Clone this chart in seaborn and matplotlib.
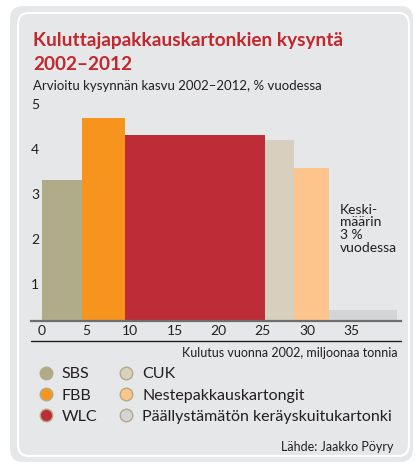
import numpy as np
import matplotlib
matplotlib.use("Agg")
import matplotlib.pyplot as plt
import seaborn as sns
from matplotlib.patches import FancyBboxPatch
from matplotlib.lines import Line2D
from matplotlib.transforms import ScaledTranslation

# data
lajit = ["SBS", "FBB", "WLC", "CUK", "Nestepakkauskartongit",
         "Päällystämätön keräyskuitukartonki"]
kulutus = [4.5, 4.9, 15.8, 3.3, 4.0, 7.7]      # miljoonaa tonnia 2002 (bar width)
kasvu = [3.13, 4.51, 4.13, 4.02, 3.4, 0.24]     # % vuodessa (bar height)
varit = ["#b0ab88", "#f7941d", "#be2d37", "#d7d0bf", "#fdc58b", "#d5d5d7"]
x_ticks = [0, 5, 10, 15, 20, 25, 30, 35]
y_ticks = [1, 2, 3, 4, 5]

vasen = np.concatenate([[0], np.cumsum(kulutus)[:-1]])

PANEL = "#e6e7e8"
PUNAINEN = "#c1272d"

sns.set_theme(style="white")
plt.rcParams["font.family"] = ["Lato", "DejaVu Sans"]

W, H = 415, 466
fig = plt.figure(figsize=(W / 100, H / 100), dpi=100)
fig.patch.set_facecolor("white")


def fx(px):
    return px / W


def fy(py):
    return 1 - py / H


# rounded grey panel with white inner outline
fig.add_artist(FancyBboxPatch((fx(10), fy(462)), fx(403), 456 / H,
                              boxstyle="round,pad=0,rounding_size=0.03",
                              transform=fig.transFigure, facecolor=PANEL,
                              edgecolor="none", zorder=0))
fig.add_artist(FancyBboxPatch((fx(18), fy(456)), fx(391), 443 / H,
                              boxstyle="round,pad=0,rounding_size=0.025",
                              transform=fig.transFigure, facecolor=PANEL,
                              edgecolor="white", linewidth=1.5, zorder=0))

ax = fig.add_axes([fx(31), fy(321), fx(370), 225 / H])
ax.set_facecolor("none")

ax.bar(vasen, kasvu, width=kulutus, align="edge", color=varit, linewidth=0)
sns.despine(ax=ax, left=True)

ax.set_xlim(-1.25, 40.65)
ax.set_ylim(0, 5)
ax.set_xticks(x_ticks)
ax.set_yticks(y_ticks)
ax.tick_params(axis="both", length=0, labelsize=10, colors="#231f20")
ax.tick_params(axis="y", pad=0)
ax.tick_params(axis="x", pad=3)
for lab in ax.get_yticklabels():
    lab.set_horizontalalignment("left")
    lab.set_verticalalignment("top")
    lab.set_transform(lab.get_transform() + ScaledTranslation(0, -3 / 100, fig.dpi_scale_trans))
ax.spines["bottom"].set_color("#6d6e71")
ax.spines["bottom"].set_linewidth(1.6)

ax.text(33.75, 2.6, "Keski-\nmäärin\n3 %\nvuodessa", ha="left", va="top",
        fontsize=10, color="#231f20", linespacing=1.05)

# black rule under the x tick labels
fig.add_artist(Line2D([fx(31), fx(401)], [fy(341), fy(341)], color="#231f20",
                      linewidth=1.0, transform=fig.transFigure))

fig.text(fx(33), fy(46), "Kuluttajapakkauskartonkien kysyntä", fontsize=13.7,
         fontweight="bold", color=PUNAINEN, va="baseline", ha="left")
fig.text(fx(33), fy(70), "2002–2012", fontsize=13.7, fontweight="bold",
         color=PUNAINEN, va="baseline", ha="left")
fig.text(fx(33), fy(90), "Arvioitu kysynnän kasvu 2002–2012, % vuodessa",
         fontsize=9.5, color="#231f20", va="baseline", ha="left")
fig.text(fx(398), fy(353), "Kulutus vuonna 2002, miljoonaa tonnia",
         fontsize=9, color="#231f20", va="center", ha="right")
fig.text(fx(393), fy(447), "Lähde: Jaakko Pöyry", fontsize=9,
         color="#231f20", va="center", ha="right")

kahvat = [Line2D([], [], linestyle="none", marker="o", markersize=9,
                 markerfacecolor=c, markeredgecolor="#b3aa84",
                 markeredgewidth=1.0) for c in varit]
fig.legend(kahvat, lajit, ncol=2, loc="upper left",
           bbox_to_anchor=(fx(38), fy(367)), frameon=False, fontsize=11.5,
           handlelength=1.0, handletextpad=0.5, columnspacing=1.3,
           labelspacing=0.45, borderaxespad=0, borderpad=0,
           labelcolor="#231f20")

fig.savefig("out.png", dpi=100, facecolor="white")
